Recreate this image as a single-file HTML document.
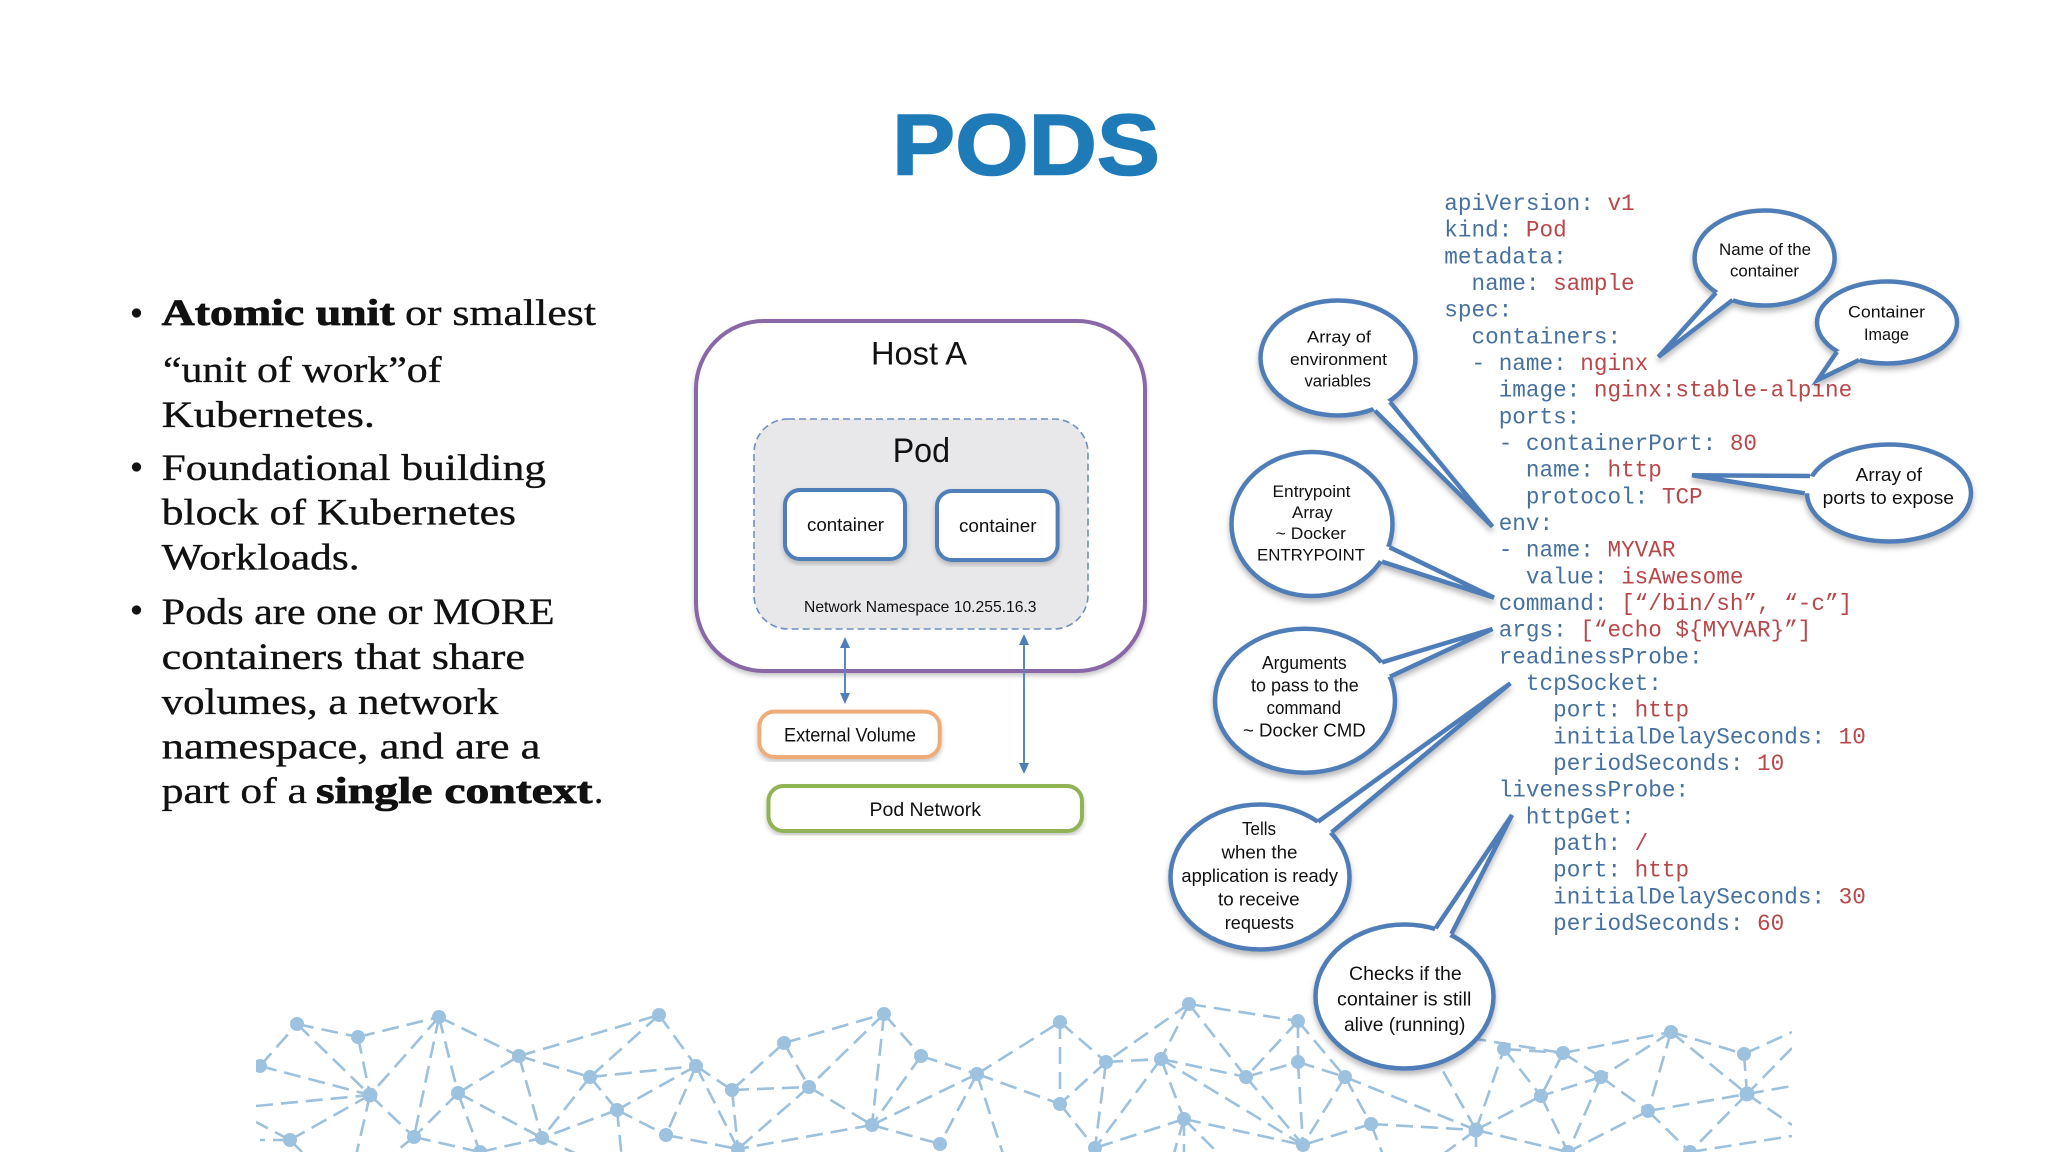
<!DOCTYPE html>
<html><head><meta charset="utf-8"><style>
html,body{margin:0;padding:0;background:#fff}
svg{display:block}
.ser{font-family:"Liberation Serif",serif;font-size:37px;fill:#111;stroke:#111;stroke-width:.35}
.b{font-weight:bold;stroke-width:.8}
.san{font-family:"Liberation Sans",sans-serif;fill:#111}
.y{font-family:"Liberation Mono",monospace;font-size:22.67px;fill:#46719f}
.y tspan{fill:#b9474a}
.cal{filter:url(#sh)}
.cal ellipse{fill:#fff;stroke:#4f7db8;stroke-width:4.5}
.cal polygon{fill:#fff;stroke:none}
.cal polyline{fill:none;stroke:#4f7db8;stroke-width:4.5;stroke-linejoin:miter;stroke-miterlimit:8}
.net line{stroke:#9dc1dc;stroke-width:2.6;stroke-dasharray:17 8}
.net circle{fill:#9cc2e0}
</style></head><body>
<svg width="2048" height="1152" viewBox="0 0 2048 1152" xmlns="http://www.w3.org/2000/svg">
<defs>
<filter id="sh" x="-20%" y="-20%" width="140%" height="140%"><feDropShadow dx="0" dy="4" stdDeviation="3" flood-color="#000" flood-opacity=".28"/></filter>
<filter id="sl" x="-10%" y="-10%" width="120%" height="120%"><feDropShadow dx="0" dy="3" stdDeviation="2.5" flood-color="#000" flood-opacity=".22"/></filter>
<clipPath id="nc"><rect x="256" y="990" width="1536" height="162"/></clipPath>
</defs>
<rect width="2048" height="1152" fill="#fff"/>

<text x="892" y="174.5" font-family="Liberation Sans,sans-serif" font-weight="bold" font-size="86" fill="#1f7ab8" stroke="#1f7ab8" stroke-width="1.6" textLength="268" lengthAdjust="spacingAndGlyphs">PODS</text>

<!-- network -->
<g class="net" clip-path="url(#nc)">
<line x1="260" y1="1066" x2="297" y2="1024"/><line x1="297" y1="1024" x2="358" y2="1037"/><line x1="358" y1="1037" x2="439" y2="1017"/>
<line x1="297" y1="1024" x2="370" y2="1095"/><line x1="358" y1="1037" x2="370" y2="1095"/><line x1="439" y1="1017" x2="370" y2="1095"/>
<line x1="260" y1="1066" x2="370" y2="1095"/><line x1="256" y1="1106" x2="370" y2="1095"/><line x1="439" y1="1017" x2="519" y2="1056"/>
<line x1="439" y1="1017" x2="458" y2="1093"/><line x1="439" y1="1017" x2="414" y2="1137"/><line x1="370" y1="1095" x2="290" y2="1140"/>
<line x1="370" y1="1095" x2="414" y2="1137"/><line x1="370" y1="1095" x2="355" y2="1160"/><line x1="458" y1="1093" x2="519" y2="1056"/>
<line x1="458" y1="1093" x2="414" y2="1137"/><line x1="458" y1="1093" x2="542" y2="1138"/><line x1="458" y1="1093" x2="480" y2="1152"/>
<line x1="519" y1="1056" x2="659" y2="1015"/><line x1="519" y1="1056" x2="590" y2="1077"/><line x1="519" y1="1056" x2="542" y2="1138"/>
<line x1="659" y1="1015" x2="590" y2="1077"/><line x1="659" y1="1015" x2="696" y2="1066"/><line x1="590" y1="1077" x2="696" y2="1066"/>
<line x1="590" y1="1077" x2="617" y2="1110"/><line x1="590" y1="1077" x2="542" y2="1138"/><line x1="696" y1="1066" x2="732" y2="1090"/>
<line x1="696" y1="1066" x2="617" y2="1110"/><line x1="696" y1="1066" x2="666" y2="1135"/><line x1="696" y1="1066" x2="738" y2="1149"/>
<line x1="732" y1="1090" x2="809" y2="1087"/><line x1="732" y1="1090" x2="784" y2="1043"/><line x1="732" y1="1090" x2="738" y2="1149"/>
<line x1="784" y1="1043" x2="884" y2="1014"/><line x1="784" y1="1043" x2="809" y2="1087"/><line x1="809" y1="1087" x2="872" y2="1125"/>
<line x1="809" y1="1087" x2="738" y2="1149"/><line x1="884" y1="1014" x2="921" y2="1056"/><line x1="884" y1="1014" x2="872" y2="1125"/>
<line x1="884" y1="1014" x2="809" y2="1087"/><line x1="921" y1="1056" x2="977" y2="1074"/><line x1="921" y1="1056" x2="872" y2="1125"/>
<line x1="977" y1="1074" x2="872" y2="1125"/><line x1="977" y1="1074" x2="940" y2="1144"/><line x1="617" y1="1110" x2="542" y2="1138"/>
<line x1="617" y1="1110" x2="666" y2="1135"/><line x1="617" y1="1110" x2="622" y2="1160"/><line x1="872" y1="1125" x2="738" y2="1149"/>
<line x1="872" y1="1125" x2="940" y2="1144"/><line x1="977" y1="1074" x2="1060" y2="1022"/><line x1="977" y1="1074" x2="1060" y2="1104"/>
<line x1="977" y1="1074" x2="1005" y2="1160"/><line x1="290" y1="1140" x2="256" y2="1122"/><line x1="290" y1="1140" x2="260" y2="1140"/>
<line x1="414" y1="1137" x2="480" y2="1152"/><line x1="480" y1="1152" x2="542" y2="1138"/><line x1="542" y1="1138" x2="590" y2="1160"/>
<line x1="666" y1="1135" x2="738" y2="1149"/><line x1="290" y1="1140" x2="310" y2="1160"/><line x1="414" y1="1137" x2="385" y2="1160"/>
<line x1="1060" y1="1022" x2="1106" y2="1062"/><line x1="1060" y1="1022" x2="1060" y2="1104"/><line x1="1189" y1="1004" x2="1106" y2="1062"/>
<line x1="1189" y1="1004" x2="1161" y2="1059"/><line x1="1189" y1="1004" x2="1246" y2="1077"/><line x1="1189" y1="1004" x2="1298" y2="1021"/>
<line x1="1106" y1="1062" x2="1161" y2="1059"/><line x1="1106" y1="1062" x2="1060" y2="1104"/><line x1="1106" y1="1062" x2="1095" y2="1148"/>
<line x1="1161" y1="1059" x2="1246" y2="1077"/><line x1="1161" y1="1059" x2="1095" y2="1148"/><line x1="1161" y1="1059" x2="1184" y2="1119"/>
<line x1="1161" y1="1059" x2="1303" y2="1145"/><line x1="1298" y1="1021" x2="1246" y2="1077"/><line x1="1298" y1="1021" x2="1298" y2="1062"/>
<line x1="1298" y1="1021" x2="1345" y2="1077"/><line x1="1246" y1="1077" x2="1298" y2="1062"/><line x1="1246" y1="1077" x2="1303" y2="1145"/>
<line x1="1298" y1="1062" x2="1345" y2="1077"/><line x1="1298" y1="1062" x2="1303" y2="1145"/><line x1="1345" y1="1077" x2="1371" y2="1124"/>
<line x1="1345" y1="1077" x2="1476" y2="1130"/><line x1="1345" y1="1077" x2="1303" y2="1145"/><line x1="1060" y1="1104" x2="1095" y2="1148"/>
<line x1="1184" y1="1119" x2="1095" y2="1148"/><line x1="1184" y1="1119" x2="1303" y2="1145"/><line x1="1184" y1="1119" x2="1172" y2="1160"/>
<line x1="1184" y1="1119" x2="1184" y2="1160"/><line x1="1184" y1="1119" x2="1225" y2="1160"/><line x1="1371" y1="1124" x2="1303" y2="1145"/>
<line x1="1371" y1="1124" x2="1476" y2="1130"/><line x1="1371" y1="1124" x2="1385" y2="1160"/><line x1="1476" y1="1130" x2="1541" y2="1096"/>
<line x1="1476" y1="1130" x2="1504" y2="1049"/><line x1="1476" y1="1130" x2="1568" y2="1152"/><line x1="1476" y1="1130" x2="1476" y2="1160"/>
<line x1="1476" y1="1130" x2="1420" y2="1030"/><line x1="1476" y1="1130" x2="1435" y2="1160"/><line x1="1504" y1="1049" x2="1563" y2="1053"/>
<line x1="1504" y1="1049" x2="1541" y2="1096"/><line x1="1563" y1="1053" x2="1671" y2="1032"/><line x1="1563" y1="1053" x2="1541" y2="1096"/>
<line x1="1563" y1="1053" x2="1601" y2="1077"/><line x1="1671" y1="1032" x2="1744" y2="1054"/><line x1="1671" y1="1032" x2="1601" y2="1077"/>
<line x1="1671" y1="1032" x2="1648" y2="1111"/><line x1="1671" y1="1032" x2="1747" y2="1094"/><line x1="1744" y1="1054" x2="1747" y2="1094"/>
<line x1="1744" y1="1054" x2="1792" y2="1032"/><line x1="1601" y1="1077" x2="1541" y2="1096"/><line x1="1601" y1="1077" x2="1648" y2="1111"/>
<line x1="1601" y1="1077" x2="1568" y2="1152"/><line x1="1541" y1="1096" x2="1568" y2="1152"/><line x1="1648" y1="1111" x2="1747" y2="1094"/>
<line x1="1648" y1="1111" x2="1690" y2="1152"/><line x1="1648" y1="1111" x2="1568" y2="1152"/><line x1="1747" y1="1094" x2="1792" y2="1086"/>
<line x1="1747" y1="1094" x2="1792" y2="1125"/><line x1="1747" y1="1094" x2="1690" y2="1152"/><line x1="1690" y1="1152" x2="1792" y2="1136"/>
<line x1="1792" y1="1048" x2="1747" y2="1094"/><line x1="1420" y1="1030" x2="1563" y2="1053"/>
<circle cx="297" cy="1024" r="7"/><circle cx="358" cy="1037" r="7"/><circle cx="439" cy="1017" r="7"/><circle cx="260" cy="1066" r="7"/><circle cx="370" cy="1095" r="7.5"/><circle cx="519" cy="1056" r="7"/><circle cx="659" cy="1015" r="7"/><circle cx="590" cy="1077" r="7"/><circle cx="458" cy="1093" r="7"/><circle cx="696" cy="1066" r="7"/><circle cx="732" cy="1090" r="7"/><circle cx="784" cy="1043" r="7"/><circle cx="809" cy="1087" r="7"/><circle cx="884" cy="1014" r="7"/><circle cx="921" cy="1056" r="7"/><circle cx="977" cy="1074" r="7"/><circle cx="617" cy="1110" r="7"/><circle cx="872" cy="1125" r="7"/><circle cx="290" cy="1140" r="7"/><circle cx="414" cy="1137" r="7"/><circle cx="542" cy="1138" r="7"/><circle cx="666" cy="1135" r="7"/><circle cx="738" cy="1149" r="7"/><circle cx="940" cy="1144" r="7"/><circle cx="480" cy="1152" r="7"/>
<circle cx="1060" cy="1022" r="7"/><circle cx="1189" cy="1004" r="7"/><circle cx="1106" cy="1062" r="7"/><circle cx="1161" cy="1059" r="7"/><circle cx="1298" cy="1021" r="7"/><circle cx="1246" cy="1077" r="7"/><circle cx="1298" cy="1062" r="7"/><circle cx="1345" cy="1077" r="7"/><circle cx="1060" cy="1104" r="7"/><circle cx="1184" cy="1119" r="7"/><circle cx="1371" cy="1124" r="7"/><circle cx="1476" cy="1130" r="7.5"/><circle cx="1095" cy="1148" r="7"/><circle cx="1303" cy="1145" r="7"/><circle cx="1504" cy="1049" r="7"/><circle cx="1563" cy="1053" r="7"/><circle cx="1671" cy="1032" r="7"/><circle cx="1744" cy="1054" r="7"/><circle cx="1601" cy="1077" r="7"/><circle cx="1541" cy="1096" r="7"/><circle cx="1648" cy="1111" r="7"/><circle cx="1747" cy="1094" r="7.5"/><circle cx="1568" cy="1152" r="7"/><circle cx="1690" cy="1152" r="7"/>
</g>

<!-- bullets -->
<g class="ser">
<circle cx="136.5" cy="313" r="4.5" fill="#111"/><circle cx="136.5" cy="467" r="4.5" fill="#111"/><circle cx="136.5" cy="610" r="4.5" fill="#111"/>
<text class="b" x="161.7" y="325" textLength="233" lengthAdjust="spacingAndGlyphs">Atomic unit</text>
<text x="405" y="325" textLength="191" lengthAdjust="spacingAndGlyphs">or smallest</text>
<text x="163" y="382" textLength="278.6" lengthAdjust="spacingAndGlyphs">“unit of work”of</text>
<text x="161.7" y="427" textLength="213.3" lengthAdjust="spacingAndGlyphs">Kubernetes.</text>
<text x="161.7" y="480" textLength="384.3" lengthAdjust="spacingAndGlyphs">Foundational building</text>
<text x="161.7" y="524.5" textLength="354.3" lengthAdjust="spacingAndGlyphs">block of Kubernetes</text>
<text x="161.7" y="569.6" textLength="197.9" lengthAdjust="spacingAndGlyphs">Workloads.</text>
<text x="161.7" y="624" textLength="392.9" lengthAdjust="spacingAndGlyphs">Pods are one or MORE</text>
<text x="161.7" y="669" textLength="363.3" lengthAdjust="spacingAndGlyphs">containers that share</text>
<text x="161.7" y="714" textLength="336.8" lengthAdjust="spacingAndGlyphs">volumes, a network</text>
<text x="161.7" y="758.7" textLength="378.8" lengthAdjust="spacingAndGlyphs">namespace, and are a</text>
<text x="161.7" y="803" textLength="145.3" lengthAdjust="spacingAndGlyphs">part of a</text>
<text class="b" x="316" y="803" textLength="276.5" lengthAdjust="spacingAndGlyphs">single context</text>
<text x="594" y="803">.</text>
</g>

<!-- host diagram -->
<rect x="696" y="321" width="449" height="350" rx="68" fill="#fff" stroke="#8a68a8" stroke-width="4" filter="url(#sl)"/>
<rect x="754" y="419" width="334" height="210" rx="34" fill="#e8e8ea" stroke="#6d90c0" stroke-width="1.6" stroke-dasharray="7 4"/>
<rect x="785" y="490" width="120" height="69" rx="15" fill="#fff" stroke="#4f7fb8" stroke-width="4" filter="url(#sl)"/>
<rect x="937" y="491" width="120.6" height="69" rx="15" fill="#fff" stroke="#4f7fb8" stroke-width="4" filter="url(#sl)"/>
<rect x="759.4" y="711.6" width="180.3" height="45.4" rx="15" fill="#fff" stroke="#f0ac78" stroke-width="4" filter="url(#sl)"/>
<rect x="768.5" y="786" width="313.5" height="45" rx="15" fill="#fff" stroke="#90b455" stroke-width="4" filter="url(#sl)"/>
<g class="san">
<text x="871" y="364.5" font-size="32" textLength="96" lengthAdjust="spacingAndGlyphs">Host A</text>
<text x="892.7" y="462" font-size="34" textLength="57.3" lengthAdjust="spacingAndGlyphs">Pod</text>
<text x="807" y="531" font-size="18" textLength="77" lengthAdjust="spacingAndGlyphs">container</text>
<text x="959" y="532" font-size="18" textLength="77.5" lengthAdjust="spacingAndGlyphs">container</text>
<text x="804" y="612" font-size="16" textLength="232.5" lengthAdjust="spacingAndGlyphs">Network Namespace 10.255.16.3</text>
<text x="784" y="741.7" font-size="19" textLength="132" lengthAdjust="spacingAndGlyphs">External Volume</text>
<text x="869.5" y="816" font-size="19" textLength="111.5" lengthAdjust="spacingAndGlyphs">Pod Network</text>
</g>
<g stroke="#5b86bb" stroke-width="2" fill="#4f7fb8">
<line x1="845" y1="640" x2="845" y2="700"/><line x1="1024" y1="637" x2="1024" y2="770"/>
<polygon stroke="none" points="845,637 840,648 850,648"/><polygon stroke="none" points="845,704 840,693 850,693"/>
<polygon stroke="none" points="1024,634 1019,645 1029,645"/><polygon stroke="none" points="1024,774 1019,763 1029,763"/>
</g>

<!-- yaml -->
<g class="y">
<text x="1444.3" y="210">apiVersion: <tspan>v1</tspan></text>
<text x="1444.3" y="236.7">kind: <tspan>Pod</tspan></text>
<text x="1444.3" y="263.3">metadata:</text>
<text x="1471.5" y="290">name: <tspan>sample</tspan></text>
<text x="1444.3" y="316.7">spec:</text>
<text x="1471.5" y="343.3">containers:</text>
<text x="1471.5" y="370">- name: <tspan>nginx</tspan></text>
<text x="1498.7" y="396.7">image: <tspan>nginx:stable-alpine</tspan></text>
<text x="1498.7" y="423.3">ports:</text>
<text x="1498.7" y="450">- containerPort: <tspan>80</tspan></text>
<text x="1525.9" y="476.7">name: <tspan>http</tspan></text>
<text x="1525.9" y="503.3">protocol: <tspan>TCP</tspan></text>
<text x="1498.7" y="530">env:</text>
<text x="1498.7" y="556.7">- name: <tspan>MYVAR</tspan></text>
<text x="1525.9" y="583.3">value: <tspan>isAwesome</tspan></text>
<text x="1498.7" y="610">command: <tspan>[“/bin/sh”, “-c”]</tspan></text>
<text x="1498.7" y="636.7">args: <tspan>[“echo ${MYVAR}”]</tspan></text>
<text x="1498.7" y="663.3">readinessProbe:</text>
<text x="1525.9" y="690">tcpSocket:</text>
<text x="1553.1" y="716.7">port: <tspan>http</tspan></text>
<text x="1553.1" y="743.3">initialDelaySeconds: <tspan>10</tspan></text>
<text x="1553.1" y="770">periodSeconds: <tspan>10</tspan></text>
<text x="1498.7" y="796.7">livenessProbe:</text>
<text x="1525.9" y="823.3">httpGet:</text>
<text x="1553.1" y="850">path: <tspan>/</tspan></text>
<text x="1553.1" y="876.7">port: <tspan>http</tspan></text>
<text x="1553.1" y="903.3">initialDelaySeconds: <tspan>30</tspan></text>
<text x="1553.1" y="930">periodSeconds: <tspan>60</tspan></text>
</g>

<!-- callouts -->
<g class="cal"><ellipse cx="1764.6" cy="258" rx="70" ry="47.5"/><polygon points="1716,292.7 1658.4,357 1732.6,300 1764,258"/><polyline points="1716,292.7 1658.4,357 1732.6,300"/></g>
<g class="cal"><ellipse cx="1887" cy="322.5" rx="70" ry="41"/><polygon points="1837,351.7 1817.7,380 1859,360 1887,322"/><polyline points="1837,351.7 1817.7,380 1859,360"/></g>
<g class="cal"><ellipse cx="1338" cy="358" rx="77.5" ry="57.5"/><polygon points="1375,410.7 1492.5,526.7 1390,402 1338,358"/><polyline points="1375,410.7 1492.5,526.7 1390,402"/></g>
<g class="cal"><ellipse cx="1312" cy="524" rx="80.5" ry="72"/><polygon points="1382,561.7 1494,597.7 1389.6,547.3 1312,524"/><polyline points="1382,561.7 1494,597.7 1389.6,547.3"/></g>
<g class="cal"><ellipse cx="1889" cy="493" rx="82" ry="48.5"/><polygon points="1810,476 1692,475.3 1804.7,493.3 1889,493"/><polyline points="1810,476 1692,475.3 1804.7,493.3"/></g>
<g class="cal"><ellipse cx="1305" cy="700.7" rx="90" ry="72"/><polygon points="1390,676.7 1492.5,629 1382,662.3 1305,700"/><polyline points="1390,676.7 1492.5,629 1382,662.3"/></g>
<g class="cal"><ellipse cx="1260" cy="877" rx="89.5" ry="72.5"/><polygon points="1331.6,832.3 1510.4,683.3 1318,821.7 1260,877"/><polyline points="1331.6,832.3 1510.4,683.3 1318,821.7"/></g>
<g class="cal"><ellipse cx="1404.5" cy="996.5" rx="89" ry="72"/><polygon points="1451.4,934 1512,815 1435.6,928.3 1404,996"/><polyline points="1451.4,934 1512,815 1435.6,928.3"/></g>

<g class="san" font-size="17">
<text x="1719" y="255" textLength="92" lengthAdjust="spacingAndGlyphs">Name of the</text>
<text x="1730" y="276.7" textLength="69" lengthAdjust="spacingAndGlyphs">container</text>
<text x="1848" y="317.7" textLength="77" lengthAdjust="spacingAndGlyphs">Container</text>
<text x="1864" y="340" textLength="45" lengthAdjust="spacingAndGlyphs">Image</text>
<text x="1307" y="342.7" textLength="64" lengthAdjust="spacingAndGlyphs">Array of</text>
<text x="1290" y="365" textLength="97" lengthAdjust="spacingAndGlyphs">environment</text>
<text x="1304.5" y="386.7" textLength="66.5" lengthAdjust="spacingAndGlyphs">variables</text>
<text x="1272.5" y="497" textLength="78" lengthAdjust="spacingAndGlyphs">Entrypoint</text>
<text x="1292" y="518" textLength="40.6" lengthAdjust="spacingAndGlyphs">Array</text>
<text x="1275.7" y="539" textLength="70.3" lengthAdjust="spacingAndGlyphs">~ Docker</text>
<text x="1257" y="560.7" textLength="108" lengthAdjust="spacingAndGlyphs">ENTRYPOINT</text>
<text x="1855.7" y="481" font-size="18" textLength="66.3" lengthAdjust="spacingAndGlyphs">Array of</text>
<text x="1822.6" y="504" font-size="18" textLength="131.4" lengthAdjust="spacingAndGlyphs">ports to expose</text>
<text x="1262" y="669" font-size="18" textLength="84.7" lengthAdjust="spacingAndGlyphs">Arguments</text>
<text x="1251" y="691.7" font-size="18" textLength="107.7" lengthAdjust="spacingAndGlyphs">to pass to the</text>
<text x="1266.5" y="714" font-size="18" textLength="74.5" lengthAdjust="spacingAndGlyphs">command</text>
<text x="1243" y="736.7" font-size="18" textLength="122.7" lengthAdjust="spacingAndGlyphs">~ Docker CMD</text>
<text x="1242" y="835" font-size="18" textLength="34" lengthAdjust="spacingAndGlyphs">Tells</text>
<text x="1221.5" y="858.7" font-size="18" textLength="75.9" lengthAdjust="spacingAndGlyphs">when the</text>
<text x="1181.4" y="882" font-size="18" textLength="156.6" lengthAdjust="spacingAndGlyphs">application is ready</text>
<text x="1218" y="905.7" font-size="18" textLength="81.6" lengthAdjust="spacingAndGlyphs">to receive</text>
<text x="1224.8" y="929" font-size="18" textLength="69.2" lengthAdjust="spacingAndGlyphs">requests</text>
<text x="1349" y="980" font-size="19.5" textLength="112.7" lengthAdjust="spacingAndGlyphs">Checks if the</text>
<text x="1337" y="1005.7" font-size="19.5" textLength="134.4" lengthAdjust="spacingAndGlyphs">container is still</text>
<text x="1344" y="1031" font-size="19.5" textLength="121.4" lengthAdjust="spacingAndGlyphs">alive (running)</text>
</g>
</svg>
</body></html>
